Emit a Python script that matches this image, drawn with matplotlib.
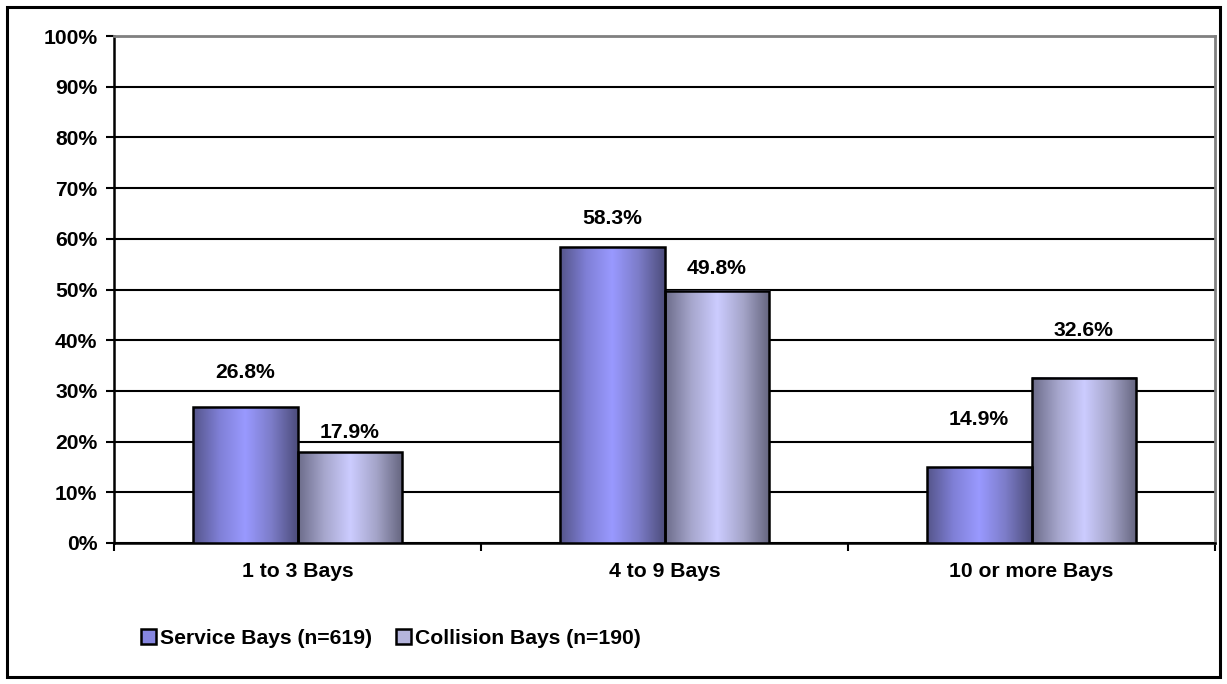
import matplotlib
matplotlib.use("Agg")
import matplotlib.pyplot as plt
import numpy as np
from matplotlib.colors import LinearSegmentedColormap
from matplotlib.patches import Rectangle, Patch

plt.rcParams['font.family'] = ['Liberation Sans', 'DejaVu Sans']
plt.rcParams['font.weight'] = 'bold'

categories = ["1 to 3 Bays", "4 to 9 Bays", "10 or more Bays"]
series_names = ["Service Bays (n=619)", "Collision Bays (n=190)"]
service = [26.8, 58.3, 14.9]
collision = [17.9, 49.8, 32.6]
yticks = [0, 10, 20, 30, 40, 50, 60, 70, 80, 90, 100]

# label lift above each bar (in % units), as Excel placed them
lift_service = [6.9, 5.8, 9.4]
lift_collision = [3.8, 4.4, 9.4]

fs = 15.2

cmap_service = LinearSegmentedColormap.from_list(
    "svc", ["#55558a", "#7f7fd6", "#9999ff", "#7c7cc8", "#4d4d7c"])
cmap_collision = LinearSegmentedColormap.from_list(
    "col", ["#6c6c8a", "#a6a6cc", "#ccccff", "#a4a4c8", "#64647e"])
solid_colors = ["#8686e0", "#b4b4dc"]

fig = plt.figure(figsize=(12.27, 6.84), dpi=100)
ax = fig.add_axes([114 / 1227, 1 - 543 / 684, 1101 / 1227, 507 / 684])

# outer frame of the chart area
fig.patches.append(Rectangle((7 / 1227, 7 / 684), 1213 / 1227, 670 / 684,
                             transform=fig.transFigure, fill=False,
                             edgecolor="black", linewidth=2.2))

x = np.arange(len(categories))
w = 0.286
grad = np.linspace(0, 1, 256).reshape(1, -1)

for vals, offs, cmap, lifts in [(service, -w / 2, cmap_service, lift_service),
                                (collision, w / 2, cmap_collision, lift_collision)]:
    bars = ax.bar(x + offs, vals, width=w, facecolor="none",
                  edgecolor="black", linewidth=1.8, zorder=4)
    for b, v, lift in zip(bars, vals, lifts):
        x0 = b.get_x()
        ax.imshow(grad, cmap=cmap, aspect="auto", zorder=3,
                  extent=[x0, x0 + b.get_width(), 0, v])
        ax.text(x0 + b.get_width() / 2, v + lift, f"{v:.1f}%",
                ha="center", va="center", fontsize=fs, fontweight="bold")

ax.set_xlim(-0.5, len(categories) - 0.5)
ax.set_ylim(0, 100)
ax.set_yticks(yticks)
ax.set_yticklabels([f"{t}%" for t in yticks], fontsize=fs, fontweight="bold")
ax.yaxis.grid(True, color="black", linewidth=1.5, zorder=0)
ax.set_axisbelow(True)

ax.set_xticks(x)
ax.set_xticklabels(categories, fontsize=fs, fontweight="bold")
ax.tick_params(axis="x", length=0, pad=14)
ax.set_xticks(np.arange(-0.5, len(categories)), minor=True)
ax.tick_params(axis="x", which="minor", length=6, width=1.5, direction="out")
ax.tick_params(axis="y", length=6, width=1.5, direction="out", pad=6)

for side in ["left", "bottom"]:
    ax.spines[side].set_linewidth(1.8)
    ax.spines[side].set_color("black")
for side in ["top", "right"]:
    ax.spines[side].set_linewidth(2)
    ax.spines[side].set_color("#808080")

handles = [Patch(facecolor=c, edgecolor="black", linewidth=1.8) for c in solid_colors]
fig.legend(handles, series_names, loc="center left",
           bbox_to_anchor=(141 / 1227, 1 - 638 / 684), ncol=2, frameon=False,
           prop={"size": fs, "weight": "bold"}, handlelength=0.7,
           handleheight=0.7, handletextpad=0.2, columnspacing=1.15,
           borderpad=0, borderaxespad=0)

fig.savefig("out.png", dpi=100)
